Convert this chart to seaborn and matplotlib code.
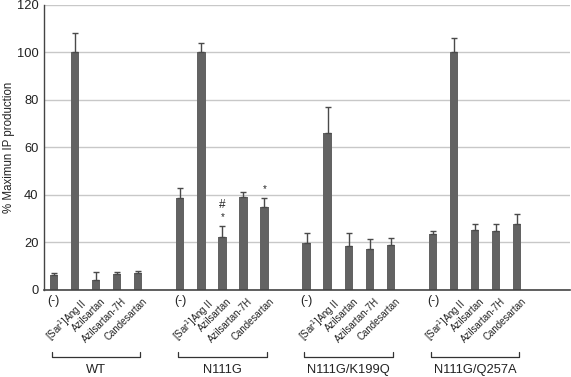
import numpy as np
import pandas as pd
import matplotlib
matplotlib.use("Agg")
import matplotlib.pyplot as plt
import seaborn as sns

groups = ["WT", "N111G", "N111G/K199Q", "N111G/Q257A"]
treatments = ["(-)", "[Sar$^1$]Ang II", "Azilsartan", "Azilsartan-7H", "Candesartan"]

wt_vals = [6.3, 100.0, 4.1, 6.6, 6.8]
wt_err = [0.8, 8.0, 3.1, 0.7, 0.9]
n111g_vals = [38.5, 100.3, 22.2, 39.1, 34.6]
n111g_err = [4.5, 3.6, 4.6, 2.0, 4.0]
k199q_vals = [19.7, 65.9, 18.5, 17.2, 18.8]
k199q_err = [4.0, 11.1, 5.5, 4.0, 3.0]
q257a_vals = [23.4, 100.0, 25.0, 24.8, 27.7]
q257a_err = [1.1, 6.2, 2.5, 3.0, 4.1]

yticks = [0, 20, 40, 60, 80, 100, 120]

vals = [wt_vals, n111g_vals, k199q_vals, q257a_vals]
errs = [wt_err, n111g_err, k199q_err, q257a_err]

rows = []
for g, (gv, ge) in enumerate(zip(vals, errs)):
    for i, (v, e) in enumerate(zip(gv, ge)):
        rows.append({"group": groups[g], "treatment": treatments[i],
                     "pos": g * 6 + i, "value": v, "err": e})
df = pd.DataFrame(rows)

sns.set_theme(style="white")
plt.rcParams["font.family"] = ["Liberation Sans", "DejaVu Sans"]

fig = plt.figure(figsize=(5.71, 3.77), dpi=100)
ax = fig.add_axes([0.077, 0.232, 0.921, 0.755])

bar_color = "#636363"
ax.set_axisbelow(True)
ax.yaxis.grid(True, color="#c8c8c8", linewidth=1.0)
ax.xaxis.grid(False)

sns.barplot(data=df, x="pos", y="value", native_scale=True, color=bar_color,
            width=0.4, saturation=1, errorbar=None, ax=ax, zorder=2)
for p in ax.patches:
    p.set_edgecolor("none")

ax.errorbar(df["pos"], df["value"], yerr=[np.zeros(len(df)), df["err"]],
            fmt="none", ecolor="#4a4a4a", elinewidth=1.0, capsize=2.2,
            capthick=1.0, zorder=3)

ax.set_ylim(0, 120)
ax.set_xlim(-0.47, 24.5)
ax.set_yticks(yticks)
ax.set_yticklabels([str(t) for t in yticks], fontsize=9.3, color="#222222")
ax.tick_params(axis="y", length=0, pad=4)
ax.set_xticks([])
ax.set_xlabel("")
ax.set_ylabel("")
fig.text(9 / 571, 0.232 + 0.755 * (1 - 145 / 284.6 * 0 ) / 2 + 0.0,
         "% Maximun IP production", rotation=90, ha="center", va="center",
         fontsize=8.3, color="#222222")

for s in ["top", "right"]:
    ax.spines[s].set_visible(False)
ax.spines["left"].set_color("#444444")
ax.spines["bottom"].set_color("#444444")
ax.spines["left"].set_linewidth(1.0)
ax.spines["bottom"].set_linewidth(1.2)

# significance marks on N111G group
sig = {8: ["*", "#"], 10: ["*"]}
for pos, marks in sig.items():
    r = df[df["pos"] == pos].iloc[0]
    base = r["value"] + r["err"]
    ax.text(pos, base + 1.5, marks[0], ha="center", va="bottom", fontsize=7)
    if len(marks) > 1:
        ax.text(pos, base + 6.5, marks[1], ha="center", va="bottom", fontsize=8.5)

trans = ax.get_xaxis_transform()
for _, r in df.iterrows():
    if r["treatment"] == "(-)":
        ax.text(r["pos"], -0.02, "(-)", transform=trans, ha="center", va="top",
                fontsize=9, color="#222222")
    else:
        ax.text(r["pos"] + 0.2, -0.025, r["treatment"], transform=trans,
                ha="right", va="top", rotation=45, rotation_mode="anchor",
                fontsize=6.9, color="#222222")

for g, name in enumerate(groups):
    x0, x1 = g * 6 - 0.1, g * 6 + 4.1
    yb, yt = -0.237, -0.218
    ax.plot([x0, x0, x1, x1], [yt, yb, yb, yt], transform=trans, color="#333333",
            linewidth=0.9, clip_on=False)
    ax.text((x0 + x1) / 2, -0.281, name, transform=trans, ha="center", va="center",
            fontsize=9.3, color="#222222")

fig.savefig("out.png", dpi=100)
